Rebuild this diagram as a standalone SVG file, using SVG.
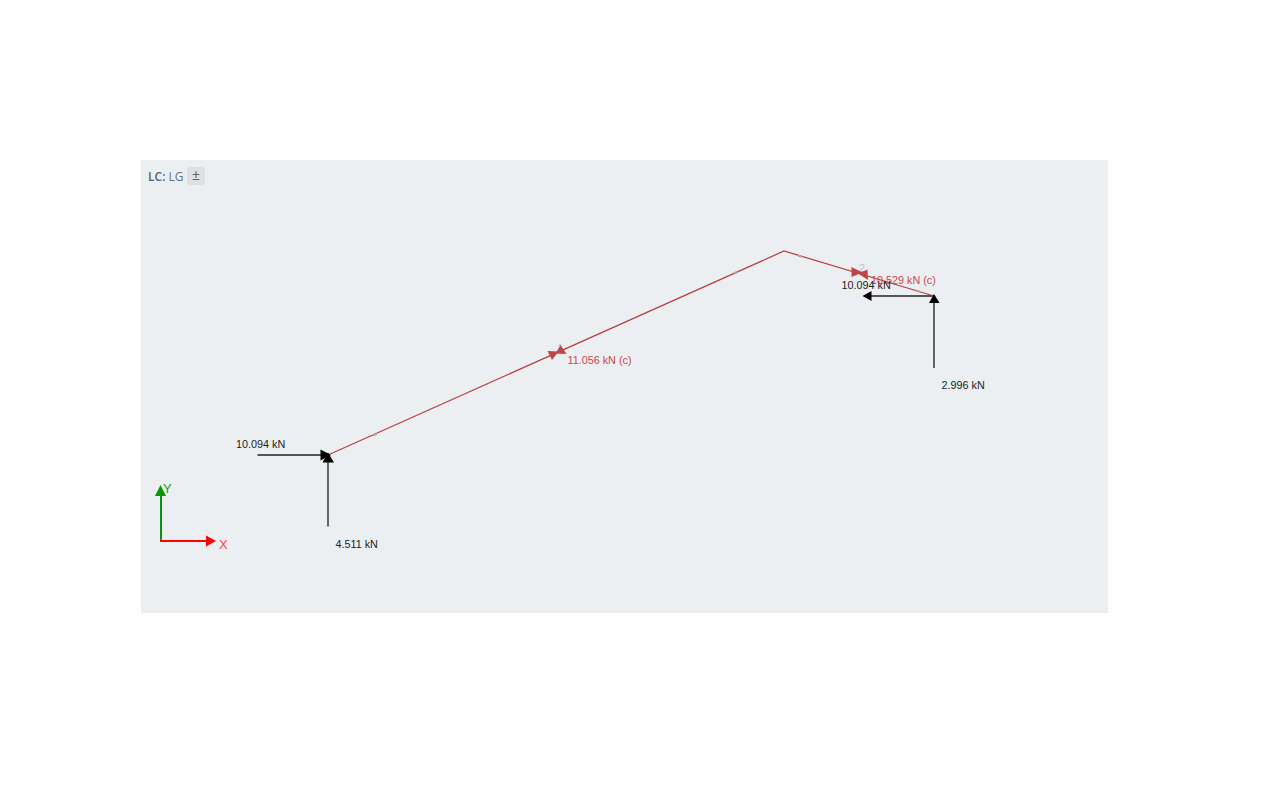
<svg xmlns="http://www.w3.org/2000/svg" width="1265" height="795" viewBox="0 0 1265 795">
<style>
.t{font-family:"Liberation Sans",Arial,sans-serif;font-size:10.8px;fill:#222}
.r{font-family:"Liberation Sans",Arial,sans-serif;font-size:10.8px;fill:#c8474d}
.m{stroke:#bb3f42;stroke-width:1.25;fill:none}
.f{stroke:#555;stroke-width:1.8;fill:none}
.n{font-family:"Liberation Sans",Arial,sans-serif;font-size:11px;fill:#c4c4c4}
.tick{stroke:#b0a0a3;stroke-width:2}
</style>
<rect width="1265" height="795" fill="#fefefe"/>
<rect id="panel" x="141" y="160" width="967" height="453" fill="#ebeff2"/>
<g id="legend">
<text x="148" y="181" font-family="'Open Sans','Noto Sans',sans-serif" font-size="12" fill="#55636b"><tspan font-weight="600">LC:</tspan> <tspan fill="#66737a">LG</tspan></text>
<rect x="187" y="167" width="18" height="18" rx="3" fill="#e0e0e0"/>
<text x="196" y="180" text-anchor="middle" font-family="'Open Sans','Noto Sans',sans-serif" font-size="14" fill="#55636b">±</text>
</g>
<g id="connectors">
<path class="m" d="M328 455L784 251L934 296"/>
<path class="tick" d="M373 435.500L377 433.500M734 273.500L738 271.500M798 255.500L802 256.700M916 290.500L920 291.700"/>
<path class="f" d="M257.500 455H322"/>
<path class="f" d="M328 526.500V462"/>
<path class="f" d="M934 368V302"/>
<path class="f" d="M934 296H870"/>
</g>
<g id="member-1">
<text class="n" x="557" y="352">1</text>
<polygon points="558.500,351.500 547.500,351 552,360" fill="#c04548"/>
<polygon points="555.500,353.500 566.500,354 560.500,345" fill="#c04548"/>
<text class="r" x="567.500" y="364">11.056 kN (c)</text>
</g>
<g id="member-2">
<text class="n" x="859" y="272">2</text>
<polygon points="862.500,272.500 851.500,267 851.500,277" fill="#c04548"/>
<polygon points="858,273.500 868,280 867.500,269.500" fill="#c04548"/>
<text class="r" x="871" y="284">10.529 kN (c)</text>
</g>
<g id="reaction-left">
<polygon points="320.500,449.500 331,455 320.500,460.500" fill="#000"/>
<polygon points="328,452.500 334,462.500 322.500,462.500" fill="#000"/>
<text class="t" x="236" y="448">10.094 kN</text>
<text class="t" x="335.500" y="548">4.511 kN</text>
</g>
<g id="reaction-right">
<polygon points="934,294 939.500,303 929,303" fill="#000"/>
<polygon points="862.500,296 871.500,291 871.500,301" fill="#000"/>
<text class="t" x="841.500" y="289">10.094 kN</text>
<text class="t" x="941.500" y="389">2.996 kN</text>
</g>
<g id="axes">
<path d="M161 541V494" stroke="#0a960a" stroke-width="2" fill="none"/>
<path d="M160 541H207" stroke="#f00" stroke-width="2" fill="none"/>
<polygon points="160.500,485 166,496 155,496" fill="#0a960a"/>
<polygon points="216,541 206,535.500 206,546.500" fill="#f00"/>
<text x="163" y="493" font-family="'Liberation Sans',sans-serif" font-size="13" fill="#17a017">Y</text>
<text x="219" y="549" font-family="'Liberation Sans',sans-serif" font-size="13" fill="#f44">X</text>
</g>
</svg>
